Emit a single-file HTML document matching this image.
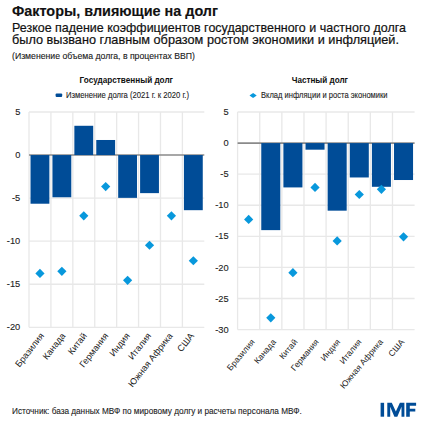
<!DOCTYPE html>
<html><head><meta charset="utf-8"><style>
html,body{margin:0;padding:0;background:#fff;width:432px;height:429px;overflow:hidden}
svg{display:block}
text{font-family:"Liberation Sans",sans-serif;fill:#222222}
.t{font-size:15.2px;font-weight:bold;fill:#111;stroke:#111;stroke-width:0.15px}
.s{font-size:12.6px;fill:#111;stroke:#111;stroke-width:0.2px}
.p{font-size:9px;fill:#1a1a1a;stroke:#1a1a1a;stroke-width:0.12px}
.h{font-size:9.8px;font-weight:bold;fill:#111}
.lg{font-size:8.2px;fill:#222;stroke:#222;stroke-width:0.1px}
.ax{font-size:9.9px;fill:#222;stroke:#222;stroke-width:0.1px}
.cat{font-size:9.1px;fill:#222}
.f{font-size:8.5px;fill:#222;stroke:#222;stroke-width:0.1px}
.imf{font-size:19.5px;font-weight:bold;fill:#004C97;stroke:#004C97;stroke-width:0.5px}
</style></head><body>
<svg width="432" height="429" viewBox="0 0 432 429">
<rect width="432" height="429" fill="#fff"/>
<text x="12" y="16.2" class="t" textLength="206" lengthAdjust="spacingAndGlyphs">Факторы, влияющие на долг</text>
<text x="12" y="31.5" class="s" textLength="394" lengthAdjust="spacingAndGlyphs">Резкое падение коэффициентов государственного и частного долга</text>
<text x="12" y="44.3" class="s" textLength="387" lengthAdjust="spacingAndGlyphs">было вызвано главным образом ростом экономики и инфляцией.</text>
<text x="12" y="58.5" class="p" textLength="183" lengthAdjust="spacingAndGlyphs">(Изменение объема долга, в процентах ВВП)</text>
<text x="79.6" y="83.2" class="h" textLength="93.4" lengthAdjust="spacingAndGlyphs">Государственный долг</text>
<rect x="55.6" y="93.4" width="6.6" height="3.5" rx="1" fill="#004C97"/>
<text x="66.0" y="98.1" class="lg" textLength="123" lengthAdjust="spacingAndGlyphs">Изменение долга (2021 г. к 2020 г.)</text>
<text x="291.7" y="83.2" class="h" textLength="56.3" lengthAdjust="spacingAndGlyphs">Частный долг</text>
<path d="M249.5 95.4L253.1 92.9L256.7 95.4L253.1 97.9Z" fill="#0898DC"/>
<text x="261" y="98.1" class="lg" textLength="126.6" lengthAdjust="spacingAndGlyphs">Вклад инфляции и роста экономики</text>
<line x1="29.0" y1="112.00" x2="204.3" y2="112.00" stroke="#E8E8E8" stroke-width="1.3"/>
<line x1="29.0" y1="198.12" x2="204.3" y2="198.12" stroke="#E8E8E8" stroke-width="1.3"/>
<line x1="29.0" y1="241.18" x2="204.3" y2="241.18" stroke="#E8E8E8" stroke-width="1.3"/>
<line x1="29.0" y1="284.24" x2="204.3" y2="284.24" stroke="#E8E8E8" stroke-width="1.3"/>
<line x1="29.0" y1="327.30" x2="204.3" y2="327.30" stroke="#E8E8E8" stroke-width="1.3"/>
<line x1="29.00" y1="112.0" x2="29.00" y2="327.3" stroke="#E8E8E8" stroke-width="1.3"/>
<line x1="50.91" y1="112.0" x2="50.91" y2="327.3" stroke="#E8E8E8" stroke-width="1.3"/>
<line x1="72.83" y1="112.0" x2="72.83" y2="327.3" stroke="#E8E8E8" stroke-width="1.3"/>
<line x1="94.74" y1="112.0" x2="94.74" y2="327.3" stroke="#E8E8E8" stroke-width="1.3"/>
<line x1="116.65" y1="112.0" x2="116.65" y2="327.3" stroke="#E8E8E8" stroke-width="1.3"/>
<line x1="138.56" y1="112.0" x2="138.56" y2="327.3" stroke="#E8E8E8" stroke-width="1.3"/>
<line x1="160.48" y1="112.0" x2="160.48" y2="327.3" stroke="#E8E8E8" stroke-width="1.3"/>
<line x1="182.39" y1="112.0" x2="182.39" y2="327.3" stroke="#E8E8E8" stroke-width="1.3"/>
<line x1="29.0" y1="155.06" x2="204.3" y2="155.06" stroke="#8A8A8A" stroke-width="1.6"/>
<rect x="30.53" y="155.06" width="18.84" height="48.66" fill="#004C97"/>
<rect x="52.45" y="155.06" width="18.84" height="42.20" fill="#004C97"/>
<rect x="74.36" y="125.78" width="18.84" height="29.28" fill="#004C97"/>
<rect x="96.27" y="139.99" width="18.84" height="15.07" fill="#004C97"/>
<rect x="118.18" y="155.06" width="18.84" height="42.80" fill="#004C97"/>
<rect x="140.10" y="155.06" width="18.84" height="38.07" fill="#004C97"/>
<rect x="162.01" y="155.06" width="18.84" height="0.00" fill="#004C97"/>
<rect x="183.92" y="155.06" width="18.84" height="55.12" fill="#004C97"/>
<path d="M39.96 268.79L44.56 273.39L39.96 277.99L35.36 273.39Z" fill="#0898DC"/>
<path d="M61.87 266.72L66.47 271.32L61.87 275.92L57.27 271.32Z" fill="#0898DC"/>
<path d="M83.78 211.26L88.38 215.86L83.78 220.46L79.18 215.86Z" fill="#0898DC"/>
<path d="M105.69 181.98L110.29 186.58L105.69 191.18L101.09 186.58Z" fill="#0898DC"/>
<path d="M127.61 275.76L132.21 280.36L127.61 284.96L123.01 280.36Z" fill="#0898DC"/>
<path d="M149.52 240.63L154.12 245.23L149.52 249.83L144.92 245.23Z" fill="#0898DC"/>
<path d="M171.43 211.26L176.03 215.86L171.43 220.46L166.83 215.86Z" fill="#0898DC"/>
<path d="M193.34 256.13L197.94 260.73L193.34 265.33L188.74 260.73Z" fill="#0898DC"/>
<text x="20.3" y="115.10" text-anchor="end" class="ax" textLength="5.17" lengthAdjust="spacingAndGlyphs">5</text>
<text x="20.3" y="158.16" text-anchor="end" class="ax" textLength="5.17" lengthAdjust="spacingAndGlyphs">0</text>
<text x="20.3" y="201.22" text-anchor="end" class="ax" textLength="8.27" lengthAdjust="spacingAndGlyphs">-5</text>
<text x="20.3" y="244.28" text-anchor="end" class="ax" textLength="13.44" lengthAdjust="spacingAndGlyphs">-10</text>
<text x="20.3" y="287.34" text-anchor="end" class="ax" textLength="13.44" lengthAdjust="spacingAndGlyphs">-15</text>
<text x="20.3" y="330.40" text-anchor="end" class="ax" textLength="13.44" lengthAdjust="spacingAndGlyphs">-20</text>
<text transform="translate(44.50,335.90) rotate(-52)" text-anchor="end" class="cat" style="font-size:9.1px">Бразилия</text>
<text transform="translate(65.93,335.90) rotate(-52)" text-anchor="end" class="cat" style="font-size:9.1px">Канада</text>
<text transform="translate(87.36,335.90) rotate(-52)" text-anchor="end" class="cat" style="font-size:9.1px">Китай</text>
<text transform="translate(108.79,335.90) rotate(-52)" text-anchor="end" class="cat" style="font-size:9.1px">Германия</text>
<text transform="translate(130.22,335.90) rotate(-52)" text-anchor="end" class="cat" style="font-size:9.1px">Индия</text>
<text transform="translate(151.65,335.90) rotate(-52)" text-anchor="end" class="cat" style="font-size:9.1px">Италия</text>
<text transform="translate(173.08,335.90) rotate(-52)" text-anchor="end" class="cat" style="font-size:9.1px">Южная Африка</text>
<text transform="translate(194.51,335.90) rotate(-52)" text-anchor="end" class="cat" style="font-size:9.1px">США</text>
<line x1="237.6" y1="112.00" x2="414.6" y2="112.00" stroke="#E8E8E8" stroke-width="1.3"/>
<line x1="237.6" y1="174.17" x2="414.6" y2="174.17" stroke="#E8E8E8" stroke-width="1.3"/>
<line x1="237.6" y1="205.26" x2="414.6" y2="205.26" stroke="#E8E8E8" stroke-width="1.3"/>
<line x1="237.6" y1="236.34" x2="414.6" y2="236.34" stroke="#E8E8E8" stroke-width="1.3"/>
<line x1="237.6" y1="267.43" x2="414.6" y2="267.43" stroke="#E8E8E8" stroke-width="1.3"/>
<line x1="237.6" y1="298.51" x2="414.6" y2="298.51" stroke="#E8E8E8" stroke-width="1.3"/>
<line x1="237.6" y1="329.60" x2="414.6" y2="329.60" stroke="#E8E8E8" stroke-width="1.3"/>
<line x1="237.60" y1="112.0" x2="237.60" y2="329.6" stroke="#E8E8E8" stroke-width="1.3"/>
<line x1="259.73" y1="112.0" x2="259.73" y2="329.6" stroke="#E8E8E8" stroke-width="1.3"/>
<line x1="281.85" y1="112.0" x2="281.85" y2="329.6" stroke="#E8E8E8" stroke-width="1.3"/>
<line x1="303.98" y1="112.0" x2="303.98" y2="329.6" stroke="#E8E8E8" stroke-width="1.3"/>
<line x1="326.10" y1="112.0" x2="326.10" y2="329.6" stroke="#E8E8E8" stroke-width="1.3"/>
<line x1="348.23" y1="112.0" x2="348.23" y2="329.6" stroke="#E8E8E8" stroke-width="1.3"/>
<line x1="370.35" y1="112.0" x2="370.35" y2="329.6" stroke="#E8E8E8" stroke-width="1.3"/>
<line x1="392.48" y1="112.0" x2="392.48" y2="329.6" stroke="#E8E8E8" stroke-width="1.3"/>
<line x1="237.6" y1="143.09" x2="414.6" y2="143.09" stroke="#8A8A8A" stroke-width="1.6"/>
<rect x="239.15" y="143.09" width="19.03" height="0.00" fill="#004C97"/>
<rect x="261.27" y="143.09" width="19.03" height="87.04" fill="#004C97"/>
<rect x="283.40" y="143.09" width="19.03" height="44.33" fill="#004C97"/>
<rect x="305.52" y="143.09" width="19.03" height="6.59" fill="#004C97"/>
<rect x="327.65" y="143.09" width="19.03" height="67.58" fill="#004C97"/>
<rect x="349.77" y="143.09" width="19.03" height="34.38" fill="#004C97"/>
<rect x="371.90" y="143.09" width="19.03" height="43.71" fill="#004C97"/>
<rect x="394.02" y="143.09" width="19.03" height="36.93" fill="#004C97"/>
<path d="M248.66 214.83L253.26 219.43L248.66 224.03L244.06 219.43Z" fill="#0898DC"/>
<path d="M270.79 313.19L275.39 317.79L270.79 322.39L266.19 317.79Z" fill="#0898DC"/>
<path d="M292.91 268.05L297.51 272.65L292.91 277.25L288.31 272.65Z" fill="#0898DC"/>
<path d="M315.04 182.81L319.64 187.41L315.04 192.01L310.44 187.41Z" fill="#0898DC"/>
<path d="M337.16 236.28L341.76 240.88L337.16 245.48L332.56 240.88Z" fill="#0898DC"/>
<path d="M359.29 189.90L363.89 194.50L359.29 199.10L354.69 194.50Z" fill="#0898DC"/>
<path d="M381.41 184.74L386.01 189.34L381.41 193.94L376.81 189.34Z" fill="#0898DC"/>
<path d="M403.54 232.18L408.14 236.78L403.54 241.38L398.94 236.78Z" fill="#0898DC"/>
<text x="228.6" y="115.10" text-anchor="end" class="ax" textLength="5.17" lengthAdjust="spacingAndGlyphs">5</text>
<text x="228.6" y="146.19" text-anchor="end" class="ax" textLength="5.17" lengthAdjust="spacingAndGlyphs">0</text>
<text x="228.6" y="177.27" text-anchor="end" class="ax" textLength="8.27" lengthAdjust="spacingAndGlyphs">-5</text>
<text x="228.6" y="208.36" text-anchor="end" class="ax" textLength="13.44" lengthAdjust="spacingAndGlyphs">-10</text>
<text x="228.6" y="239.44" text-anchor="end" class="ax" textLength="13.44" lengthAdjust="spacingAndGlyphs">-15</text>
<text x="228.6" y="270.53" text-anchor="end" class="ax" textLength="13.44" lengthAdjust="spacingAndGlyphs">-20</text>
<text x="228.6" y="301.61" text-anchor="end" class="ax" textLength="13.44" lengthAdjust="spacingAndGlyphs">-25</text>
<text x="228.6" y="332.70" text-anchor="end" class="ax" textLength="13.44" lengthAdjust="spacingAndGlyphs">-30</text>
<text transform="translate(255.20,342.20) rotate(-50)" text-anchor="end" class="cat" style="font-size:8.5px">Бразилия</text>
<text transform="translate(276.57,342.20) rotate(-50)" text-anchor="end" class="cat" style="font-size:8.5px">Канада</text>
<text transform="translate(297.95,342.20) rotate(-50)" text-anchor="end" class="cat" style="font-size:8.5px">Китай</text>
<text transform="translate(319.32,342.20) rotate(-50)" text-anchor="end" class="cat" style="font-size:8.5px">Германия</text>
<text transform="translate(340.70,342.20) rotate(-50)" text-anchor="end" class="cat" style="font-size:8.5px">Индия</text>
<text transform="translate(362.07,342.20) rotate(-50)" text-anchor="end" class="cat" style="font-size:8.5px">Италия</text>
<text transform="translate(383.45,342.20) rotate(-50)" text-anchor="end" class="cat" style="font-size:8.5px">Южная Африка</text>
<text transform="translate(404.82,342.20) rotate(-50)" text-anchor="end" class="cat" style="font-size:8.5px">США</text>
<text x="12" y="414.2" class="f" textLength="289.8" lengthAdjust="spacingAndGlyphs">Источник: база данных МВФ по мировому долгу и расчеты персонала МВФ.</text>
<g fill="#004C97">
<rect x="380.6" y="402.8" width="3.5" height="13.9"/>
<path d="M387.3 416.7V402.8H391.8L395.85 411.6L399.9 402.8H404.4V416.7H401.5V406.8L397.3 416.7H394.4L390.2 406.8V416.7Z"/>
<path d="M406.2 416.7V402.8H416.1V405.7H409.8V408.8H415.3V411.6H409.8V416.7Z"/>
</g>
</svg>
</body></html>
